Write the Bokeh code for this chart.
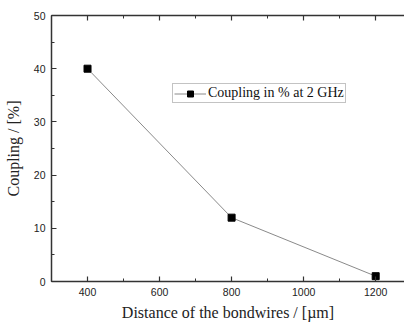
from bokeh.plotting import figure
from bokeh.models import LinearAxis, Range1d, Legend, LegendItem, SingleIntervalTicker
from bokeh.embed import file_html
from bokeh.resources import INLINE

distance = [400, 800, 1200]
coupling = [40, 12, 1]
series_name = "Coupling in % at 2 GHz"
x_tick_values = [400, 600, 800, 1000, 1200]

p = figure(width=404, height=324, output_backend="svg", toolbar_location=None,
           x_range=Range1d(300, 1280), y_range=Range1d(0, 50),
           min_border_left=51, min_border_right=0, min_border_top=15, min_border_bottom=43,
           x_axis_location=None, y_axis_location=None)
p.outline_line_color = None
p.xgrid.visible = False
p.ygrid.visible = False
p.background_fill_color = "white"
p.border_fill_color = "white"

def style(ax, ticker):
    ax.ticker = ticker
    ax.axis_line_color = "#333333"
    ax.axis_line_width = 1.5
    ax.major_tick_in = 5
    ax.major_tick_out = 0
    ax.minor_tick_in = 3
    ax.minor_tick_out = 0
    ax.major_tick_line_color = "#333333"
    ax.minor_tick_line_color = "#333333"
    ax.major_tick_line_width = 1.2
    ax.major_label_text_font = "Liberation Sans"
    ax.major_label_text_font_size = "10.5px"
    ax.major_label_text_color = "#222222"
    ax.axis_label_text_font = "Liberation Serif"
    ax.axis_label_text_font_size = "16px"
    ax.axis_label_text_font_style = "normal"
    ax.axis_label_text_color = "#222222"

xb = LinearAxis(axis_label="Distance of the bondwires / [µm]")
style(xb, SingleIntervalTicker(interval=200, num_minor_ticks=2))
xb.major_label_standoff = 6
xb.axis_label_standoff = 5
p.add_layout(xb, "below")

xt = LinearAxis()
style(xt, SingleIntervalTicker(interval=200, num_minor_ticks=2))
xt.major_label_overrides = {v: "" for v in x_tick_values}
xt.major_label_standoff = 0
p.add_layout(xt, "above")

yl = LinearAxis(axis_label="Coupling / [%]")
style(yl, SingleIntervalTicker(interval=10, num_minor_ticks=2))
yl.major_label_standoff = 6
yl.axis_label_standoff = 9
p.add_layout(yl, "left")

ln = p.line(distance, coupling, line_color="#8a8a8a", line_width=1)
mk = p.scatter(distance, coupling, marker="square", size=7, fill_color="black", line_color="black")

leg = Legend(items=[LegendItem(label=series_name, renderers=[ln, mk])],
             location=(121, 178), orientation="vertical")
leg.label_text_font = "Liberation Serif"
leg.label_text_font_size = "14px"
leg.label_text_color = "#111111"
leg.border_line_color = "#888888"
leg.border_line_width = 1
leg.background_fill_color = "white"
leg.background_fill_alpha = 1
leg.padding = 1
leg.margin = 0
leg.glyph_width = 32
leg.glyph_height = 15
leg.label_height = 15
leg.label_standoff = 2
leg.spacing = 0
p.add_layout(leg, "center")

open("out.html", "w").write(file_html(p, INLINE))
